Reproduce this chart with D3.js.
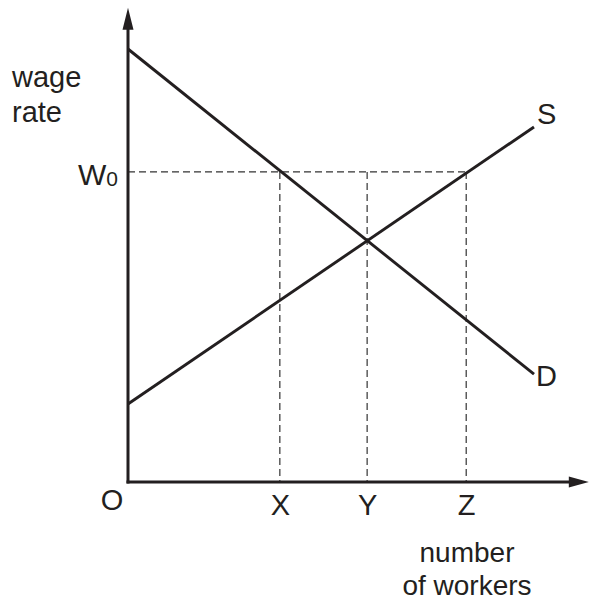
<!DOCTYPE html>
<html>
  <head>
    <meta http-equiv="Content-Type" content="text/html;charset=utf-8">
    <title>Labour market</title>
    <script type="text/javascript" src="https://d3js.org/d3.v7.min.js"></script>
    <style>
      body {
        margin: 0;
        background: #fff;
      }
      text {
        font-family: 'Liberation Sans', Arial, sans-serif;
        fill: #231f20;
      }
      .curve {
        fill: none;
        stroke: #231f20;
        stroke-width: 2.9px;
      }
      .guide {
        fill: none;
        stroke: #333;
        stroke-width: 1.2px;
        stroke-dasharray: 7 4;
      }
      .axisline {
        stroke: #231f20;
        stroke-width: 3px;
      }
    </style>
  </head>
  <body>
    <div id="chart"></div>
    <script>
var width = 589,
    height = 601;

// values (0..100 units on both axes)
var demand = [[0, 100], [100, 24.9]];
var supply = [[0, 18], [100, 82]];
var wageW0 = 71.6;
var qLabels = ["X", "Y", "Z"];
var qValues = [37.4, 58.9, 83.3];
var xAxisMax = 113.5,
    yAxisMax = 109.5;

var x = d3.scaleLinear().domain([0, 100]).range([128, 534]);
var y = d3.scaleLinear().domain([0, 100]).range([482, 49]);

var svg = d3.select("#chart").append("svg")
    .attr("width", width)
    .attr("height", height);

var line = d3.line()
  .x(function(d) { return x(d[0]); })
  .y(function(d) { return y(d[1]); });

// dashed guides
svg.append("path")
    .attr("class", "guide")
    .attr("d", line([[0, wageW0], [qValues[2], wageW0]]));
svg.selectAll(".vguide")
    .data(qValues)
  .enter().append("path")
    .attr("class", "guide")
    .attr("d", function(d) { return line([[d, wageW0], [d, 0]]); });

// curves
svg.append("path").attr("class", "curve").attr("d", line(demand));
svg.append("path").attr("class", "curve").attr("d", line(supply));

// axes with arrow heads
svg.append("line").attr("class", "axisline")
    .attr("x1", x(0)).attr("y1", y(0) + 1.5)
    .attr("x2", x(0)).attr("y2", y(yAxisMax) + 18);
svg.append("line").attr("class", "axisline")
    .attr("x1", x(0) - 1.5).attr("y1", y(0))
    .attr("x2", x(xAxisMax) - 18).attr("y2", y(0));
svg.append("path")
    .attr("fill", "#231f20")
    .attr("d", "M" + x(0) + "," + y(yAxisMax) + "L" + (x(0) + 5.5) + "," + (y(yAxisMax) + 22) +
               "L" + (x(0) - 5.5) + "," + (y(yAxisMax) + 22) + "Z");
svg.append("path")
    .attr("fill", "#231f20")
    .attr("d", "M" + x(xAxisMax) + "," + y(0) + "L" + (x(xAxisMax) - 20) + "," + (y(0) - 5.5) +
               "L" + (x(xAxisMax) - 20) + "," + (y(0) + 5.5) + "Z");

// quantity labels via bottom axis
var xAxis = svg.append("g")
    .attr("transform", "translate(0," + y(0) + ")")
    .call(d3.axisBottom(x)
      .tickValues(qValues)
      .tickFormat(function(d, i) { return qLabels[i]; })
      .tickSize(0)
      .tickPadding(12));
xAxis.select(".domain").remove();
xAxis.selectAll("text")
    .style("font-size", "29px")
    .style("font-family", "'Liberation Sans', Arial, sans-serif")
    .attr("fill", "#231f20");

// W0 label
var w0 = svg.append("text")
    .attr("x", x(0) - 10)
    .attr("y", y(wageW0) + 13)
    .attr("text-anchor", "end")
    .style("font-size", "30px");
w0.append("tspan").text("W");
w0.append("tspan").text("0").style("font-size", "21px").attr("dy", 1);

svg.append("text").attr("x", 112).attr("y", 510)
    .attr("text-anchor", "middle").style("font-size", "29px").text("O");

svg.append("text").attr("x", x(100) + 2).attr("y", y(demand[1][1]) + 12)
    .style("font-size", "29px").text("D");
svg.append("text").attr("x", x(100) + 3).attr("y", y(supply[1][1]) - 3)
    .style("font-size", "29px").text("S");

svg.append("text").attr("x", 12).attr("y", 87).style("font-size", "29px").text("wage");
svg.append("text").attr("x", 12).attr("y", 122).style("font-size", "29px").text("rate");

svg.append("text").attr("x", 467).attr("y", 562).attr("text-anchor", "middle")
    .style("font-size", "28px").text("number");
svg.append("text").attr("x", 467).attr("y", 595).attr("text-anchor", "middle")
    .style("font-size", "28px").text("of workers");
    </script>
  </body>
</html>
